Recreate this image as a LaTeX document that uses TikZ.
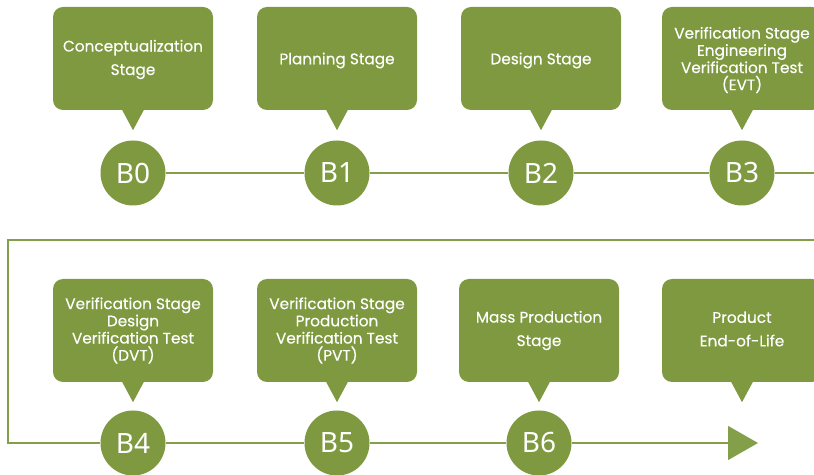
\documentclass[tikz,border=0pt]{standalone}
\usepackage{fontspec}
\setmainfont{Poppins}
\newfontfamily\pfont[FakeBold=0.35]{Poppins}
\newfontfamily\bfont{Noto Sans}
\usetikzlibrary{arrows.meta,calc}
\definecolor{olive}{RGB}{126,153,64}
\definecolor{lineg}{RGB}{132,159,74}
\begin{document}
\begin{tikzpicture}[x=1pt,y=1pt,
 callout/.style={fill=olive, rounded corners=10pt, minimum width=160pt, minimum height=103pt, inner sep=0pt},
 ctext/.style={text=white, align=center, font=\pfont\fontsize{15.3}{23.5}\selectfont, inner sep=0pt},
 ctext4/.style={ctext, font=\pfont\fontsize{15.3}{17.2}\selectfont},
 bcirc/.style={circle, fill=olive, minimum size=65pt, inner sep=0pt, text=white, font=\bfont\fontsize{28}{28}\selectfont},
 conn/.style={draw=lineg, line width=1.2pt},
 pointer/.style={fill=olive}]
\useasboundingbox (0,0) rectangle (814,474);
\clip (0,0) rectangle (814,474);
% callout boxes
\node[callout] (p0) at (133,415.5) {};
\node[callout] (p1) at (337,415.5) {};
\node[callout] (p2) at (541,415.5) {};
\node[callout] (p3) at (742,415.5) {};
\node[callout] (p4) at (133,143.5) {};
\node[callout] (p5) at (337,143.5) {};
\node[callout] (p6) at (539,143.5) {};
\node[callout] (p7) at (742,143.5) {};
% pointers
\foreach \p in {p0,p1,p2,p3,p4,p5,p6,p7}{
  \fill[pointer] ($(\p.south)+(-11,0.5)$) -- ($(\p.south)+(11,0.5)$) -- ($(\p.south)+(0,-20)$) -- cycle;
}
% texts
\node[ctext] (t0) at ($(p0)+(0,-1)$) {Conceptualization\\Stage};
\node[ctext] (t1) at ($(p1)+(0,-2)$) {Planning Stage};
\node[ctext] (t2) at ($(p2)+(0,-2)$) {Design Stage};
\node[ctext4] (t3) at ($(p3)+(0,-1.5)$) {Verification Stage\\Engineering\\Verification Test\\(EVT)};
\node[ctext4] (t4) at (p4) {Verification Stage\\Design\\Verification Test\\(DVT)};
\node[ctext4] (t5) at (p5) {Verification Stage\\Production\\Verification Test\\(PVT)};
\node[ctext] (t6) at (p6) {Mass Production\\Stage};
\node[ctext] (t7) at ($(p7)+(0,1.5)$) {Product\\End-of-Life};
% circles
\node[bcirc] (B0) at (133,301) {B0};
\node[bcirc] (B1) at (337,301) {B1};
\node[bcirc] (B2) at (541,301) {B2};
\node[bcirc] (B3) at (742,301) {B3};
\node[bcirc] (B4) at (133,31) {B4};
\node[bcirc] (B5) at (337,31) {B5};
\node[bcirc] (B6) at (539,31) {B6};
% connectors
\coordinate (r1) at (820,301);
\coordinate (r2) at (820,234);
\coordinate (c1) at (8,234);
\coordinate (tip) at (758,31);
\draw[conn] (B0) -- (B1);
\draw[conn] (B1) -- (B2);
\draw[conn] (B2) -- (B3);
\draw[conn] (B3) -- (r1);
\draw[conn] (r2) -- (c1) |- (B4.west);
\draw[conn] (B4) -- (B5);
\draw[conn] (B5) -- (B6);
\draw[conn, -{Triangle[width=34pt,length=30pt]}] (B6) -- (tip);
\end{tikzpicture}
\end{document}
